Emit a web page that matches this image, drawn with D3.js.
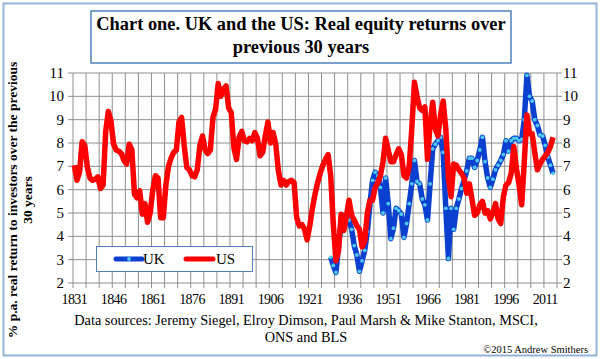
<!DOCTYPE html>
<html><head><meta charset="utf-8">
<script src="https://cdn.jsdelivr.net/npm/d3@7"></script>
<style>
html,body{margin:0;padding:0;background:#fff;}
svg{display:block;}
</style></head>
<body><svg id="chart" width="600" height="359" font-family="Liberation Serif, Times New Roman, DejaVu Serif, serif"></svg>
<script>
const titleLines = ["Chart one. UK and the US: Real equity returns over", "previous 30 years"];
const yTitleLines = ["% p.a. real return to investors over the previous", "30 years"];
const sourceLines = ["Data sources: Jeremy Siegel,  Elroy Dimson, Paul Marsh & Mike Stanton, MSCI,", "ONS and BLS"];
const copyright = "\u00a92015 Andrew Smithers";
const seriesNames = ["UK", "US"];
const xTickLabels = [1831, 1846, 1861, 1876, 1891, 1906, 1921, 1936, 1951, 1966, 1981, 1996, 2011];
const yTicks = [2, 3, 4, 5, 6, 7, 8, 9, 10, 11];

const usStart = 1831;
const usValues = [
 7.05, 6.4, 6.75, 8.05, 7.9, 6.95, 6.5, 6.4, 6.45, 6.55,
 6.05, 6.2, 8.5, 9.35, 8.95, 7.95, 7.7, 7.65, 7.55, 7.25,
 7.1, 7.95, 7.7, 5.8, 5.65, 5.95, 4.95, 5.4, 4.6, 5.0,
 6.0, 6.6, 6.5, 4.8, 4.8, 6.2, 7.0, 7.35, 7.6, 7.7,
 8.9, 9.1, 7.9, 6.95, 6.85, 6.6, 6.55, 6.85, 7.9, 8.3,
 7.7, 7.55, 7.7, 9.1, 9.45, 10.55, 10.0, 10.3, 10.45, 9.5,
 9.3, 7.8, 7.3, 8.25, 8.5, 8.1, 8.05, 8.2, 8.1, 8.45,
 8.2, 7.45, 7.6, 8.3, 8.9, 8.0, 8.45, 7.95, 6.8, 6.2,
 6.4, 6.2, 6.35, 6.4, 6.3, 4.8, 4.45, 4.5, 4.3, 3.85,
 4.45, 5.2, 5.8, 6.3, 6.7, 7.05, 7.3, 7.5, 6.6, 4.5,
 2.95, 3.4, 4.95, 4.25, 4.85, 5.55, 4.9, 4.7, 4.45, 4.3,
 3.55, 3.8, 5.0, 5.55, 5.55, 6.1, 6.3, 6.6, 7.2, 8.2,
 7.7, 7.2, 7.2, 7.5, 7.75, 7.5, 6.6, 6.5, 7.0, 8.6,
 10.6, 10.0, 9.5, 9.4, 9.55, 7.3, 8.8, 9.75, 8.6, 8.3,
 9.2, 9.8, 8.6, 6.5, 5.7, 7.1, 7.05, 6.85, 6.7, 6.5,
 5.85, 6.25, 5.6, 4.9, 5.0, 5.35, 5.5, 5.0, 5.1, 4.75,
 5.0, 5.4, 4.75, 4.55, 5.7, 6.2, 6.3, 6.7, 7.85, 6.9,
 6.2, 5.35, 7.2, 9.2, 8.4, 8.4, 7.6, 6.85, 7.1, 7.3,
 7.45, 7.6, 7.85, 8.25
];

const ukStart = 1929;
const ukValues = [
 3.1, 2.75,
 2.45, 3.6, 4.6, 4.9, 4.6, 4.7, 4.3, 3.6, 3.2, 2.5,
 2.95, 3.4, 4.2, 5.4, 6.4, 6.75, 6.6, 6.1, 5.0, 6.5,
 5.4, 3.9, 4.35, 5.2, 5.1, 4.95, 3.95, 4.55, 5.4, 6.25,
 7.25, 6.35, 6.25, 5.6, 5.35, 4.7, 6.25, 7.75, 7.95, 8.1,
 8.25, 7.6, 5.2, 3.05, 5.2, 4.3, 5.2, 5.6, 6.05, 6.4,
 6.8, 7.35, 7.35, 6.95, 7.25, 7.7, 8.25, 7.2, 6.5, 6.1,
 6.45, 6.85, 7.05, 7.25, 7.5, 8.1, 7.65, 8.1, 8.2, 8.2,
 8.1, 8.15, 9.0, 10.9, 10.0, 9.8, 9.0, 8.75, 8.35, 8.3,
 7.9, 7.4, 7.05, 6.7
];

const us = usValues.map((v, i) => ({year: usStart + i, value: v}));
const uk = ukValues.map((v, i) => ({year: ukStart + i, value: v}));

const svg = d3.select("#chart");
const L = 73, R = 557, T = 73, B = 283;
const x = d3.scaleLinear().domain([1830.5, 2015.5]).range([L, R]);
const y = d3.scaleLinear().domain([2, 11]).range([B, T]);

// outer border
svg.append("rect").attr("x", 3.5).attr("y", 3.5).attr("width", 593).attr("height", 352)
  .attr("fill", "#fff").attr("stroke", "#95b3d7").attr("stroke-width", 2);

// title box
svg.append("rect").attr("x", 91).attr("y", 11).attr("width", 420).attr("height", 52)
  .attr("fill", "#fff").attr("stroke", "#4f81bd").attr("stroke-width", 1.5);
svg.selectAll("text.title").data(titleLines).enter().append("text")
  .attr("x", 301).attr("y", (d, i) => 30 + i * 23)
  .attr("text-anchor", "middle").attr("font-weight", "bold").attr("font-size", 18.4)
  .text(d => d);

// gridlines
const gridColor = "#8f8f8f";
const vYears = d3.range(0, 38).map(k => 1830.5 + 5 * k);
svg.append("g").selectAll("line").data(vYears).enter().append("line")
  .attr("x1", d => x(d)).attr("x2", d => x(d)).attr("y1", T).attr("y2", B + 5)
  .attr("stroke", gridColor).attr("stroke-width", 1);
svg.append("g").selectAll("line").data(yTicks).enter().append("line")
  .attr("x1", L - 5).attr("x2", R + 5).attr("y1", d => y(d)).attr("y2", d => y(d))
  .attr("stroke", gridColor).attr("stroke-width", 1);

// y labels both sides
svg.append("g").selectAll("text").data(yTicks).enter().append("text")
  .attr("x", 64).attr("y", d => y(d) + 5).attr("text-anchor", "end")
  .attr("font-size", 15).text(d => d);
svg.append("g").selectAll("text").data(yTicks).enter().append("text")
  .attr("x", 563).attr("y", d => y(d) + 5).attr("text-anchor", "start")
  .attr("font-size", 15).text(d => d);

// x labels
svg.append("g").selectAll("text").data(xTickLabels).enter().append("text")
  .attr("x", d => x(d)).attr("y", 304).attr("text-anchor", "middle")
  .attr("font-size", 14).attr("letter-spacing", -0.6).text(d => d);

// y title
yTitleLines.forEach((t, i) => {
  svg.append("text").attr("transform", `translate(${17 + i * 15},200) rotate(-90)`)
    .attr("text-anchor", "middle").attr("font-weight", "bold").attr("font-size", 13.5)
    .text(t);
});

// lines
const line = d3.line().x(d => x(d.year)).y(d => y(d.value));
svg.append("path").datum(uk).attr("d", line).attr("fill", "none")
  .attr("stroke", "#0a3fd0").attr("stroke-width", 5.5).attr("stroke-linejoin", "round");
svg.append("g").selectAll("circle").data(uk).enter().append("circle")
  .attr("cx", d => x(d.year)).attr("cy", d => y(d.value)).attr("r", 1.9)
  .attr("fill", "#4fc8f0");
svg.append("path").datum(us).attr("d", line).attr("fill", "none")
  .attr("stroke", "#ff0000").attr("stroke-width", 5.5).attr("stroke-linejoin", "round");

// legend
const lg = svg.append("g");
lg.append("rect").attr("x", 96.5).attr("y", 246.5).attr("width", 156).attr("height", 25)
  .attr("fill", "#fff").attr("stroke", "#4f81bd").attr("stroke-width", 1);
lg.append("line").attr("x1", 116).attr("x2", 142).attr("y1", 259).attr("y2", 259)
  .attr("stroke", "#0a3fd0").attr("stroke-width", 5).attr("stroke-linecap", "round");
lg.append("circle").attr("cx", 129).attr("cy", 259).attr("r", 1.9).attr("fill", "#4fc8f0");
lg.append("line").attr("x1", 186).attr("x2", 213).attr("y1", 259).attr("y2", 259)
  .attr("stroke", "#ff0000").attr("stroke-width", 5).attr("stroke-linecap", "round");
lg.selectAll("text").data(seriesNames).enter().append("text")
  .attr("x", (d, i) => i === 0 ? 143 : 216).attr("y", 264).attr("font-size", 15).text(d => d);

// sources
svg.selectAll("text.src").data(sourceLines).enter().append("text")
  .attr("x", 306).attr("y", (d, i) => 325 + i * 17).attr("text-anchor", "middle")
  .attr("font-size", 14.3).text(d => d);
svg.append("text").attr("x", 588).attr("y", 353).attr("text-anchor", "end")
  .attr("font-size", 10.5).text(copyright);
</script></body></html>
